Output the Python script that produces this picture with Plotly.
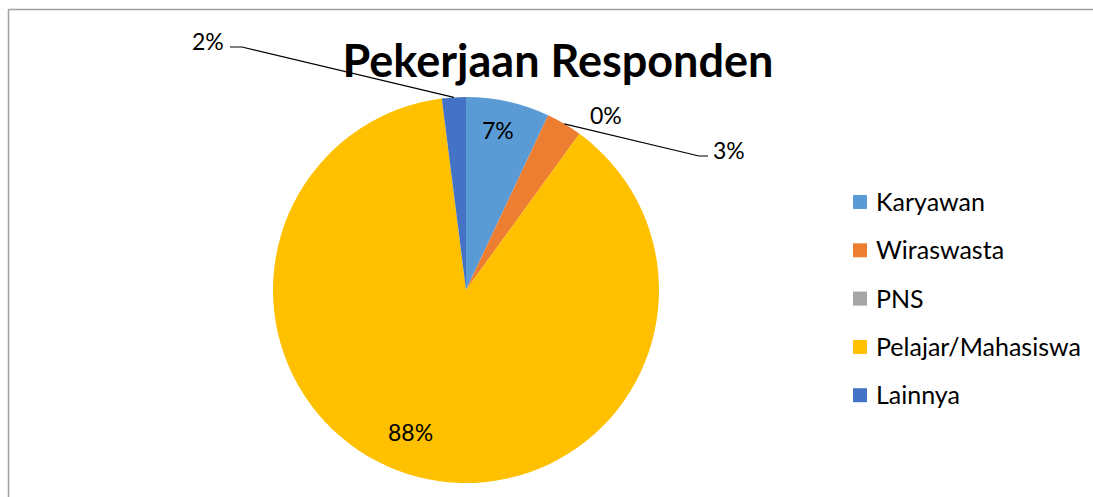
import math
import plotly.graph_objects as go

# ---- data ----
categories = ["Karyawan", "Wiraswasta", "PNS", "Pelajar/Mahasiswa", "Lainnya"]
values = [7, 3, 0, 88, 2]
colors = ["#5B9BD5", "#ED7D31", "#A5A5A5", "#FFC000", "#4472C4"]
title_text = "Pekerjaan Responden"

W, H = 1093, 497
FONT = "Lato"

def px(x):
    return x / W

def py(y):
    return 1 - y / H

# pie geometry (pixels in the final picture)
CX, CY, R = 466, 290, 193

fig = go.Figure()
fig.add_trace(go.Pie(
    labels=categories,
    values=values,
    sort=False,
    direction="clockwise",
    rotation=0,
    marker=dict(colors=colors, line=dict(width=0)),
    textinfo="none",
    hoverinfo="label+percent",
    showlegend=False,
    domain=dict(x=[px(CX - R), px(CX + R)], y=[py(CY + R), py(CY - R)]),
))

total = sum(values)
pcts = [v / total * 100 for v in values]
cum = 0
mids = []
for v in values:
    a0 = cum / total * 360
    cum += v
    a1 = cum / total * 360
    mids.append((a0 + a1) / 2)

def polar(angle, frac):
    t = math.radians(angle)
    return CX + R * frac * math.sin(t), CY - R * frac * math.cos(t)

# label placement style per slice
label_style = {
    0: ("inside", dict(frac=0.845, dang=-1.3)),
    1: ("leader", dict(elbow=(699, 156), end=(708, 156), text=(729, 150))),
    2: ("free", dict(text=(606, 115))),
    3: ("inside", dict(frac=0.79, dang=7.1)),
    4: ("leader", dict(elbow=(242, 47), end=(230, 47), text=(208, 41))),
}

annotations = []
shapes = []
for i, (cat, p) in enumerate(zip(categories, pcts)):
    txt = f"{round(p):.0f}%"
    mode, st = label_style[i]
    if mode == "inside":
        x, y = polar(mids[i] + st["dang"], st["frac"])
    elif mode == "leader":
        ex, ey = polar(mids[i], 1.0)
        (bx, by), (qx, qy) = st["elbow"], st["end"]
        shapes.append(dict(type="path", xref="paper", yref="paper",
                           path=f"M {px(ex)} {py(ey)} L {px(bx)} {py(by)} L {px(qx)} {py(qy)}",
                           line=dict(color="black", width=1.2)))
        x, y = st["text"]
    else:
        x, y = st["text"]
    annotations.append(dict(x=px(x), y=py(y), xref="paper", yref="paper",
                            text=txt, showarrow=False, xanchor="center", yanchor="middle",
                            font=dict(family=FONT, size=23, color="#000000")))

# custom legend
leg_x, leg_y0, leg_dy, msz = 853, 202, 48.3, 14
for i, (cat, col) in enumerate(zip(categories, colors)):
    yc = leg_y0 + i * leg_dy
    shapes.append(dict(type="rect", xref="paper", yref="paper",
                       x0=px(leg_x), x1=px(leg_x + msz), y0=py(yc + msz / 2), y1=py(yc - msz / 2),
                       fillcolor=col, line=dict(width=0)))
    annotations.append(dict(x=px(leg_x + 21), y=py(yc - 1), xref="paper", yref="paper",
                            text=cat, showarrow=False, xanchor="left", yanchor="middle",
                            font=dict(family=FONT, size=25, color="#000000")))

# chart border (top and left visible)
shapes.append(dict(type="line", xref="paper", yref="paper", x0=px(8.5), x1=1, y0=py(9.5), y1=py(9.5),
                   line=dict(color="#A0A0A0", width=1.5)))
shapes.append(dict(type="line", xref="paper", yref="paper", x0=px(8.5), x1=px(8.5), y0=py(9.5), y1=0,
                   line=dict(color="#A0A0A0", width=1.5)))

fig.update_layout(
    width=W, height=H,
    margin=dict(l=0, r=0, t=0, b=0),
    paper_bgcolor="white",
    plot_bgcolor="white",
    title=dict(text=f"<b>{title_text}</b>", x=px(558), y=py(61), xanchor="center", yanchor="middle",
               font=dict(family=FONT, size=45, color="#000000")),
    annotations=annotations,
    shapes=shapes,
)

fig.write_html("out.html", config={"displayModeBar": False},
               post_script="document.body.style.margin='0';document.body.style.overflow='hidden';")
